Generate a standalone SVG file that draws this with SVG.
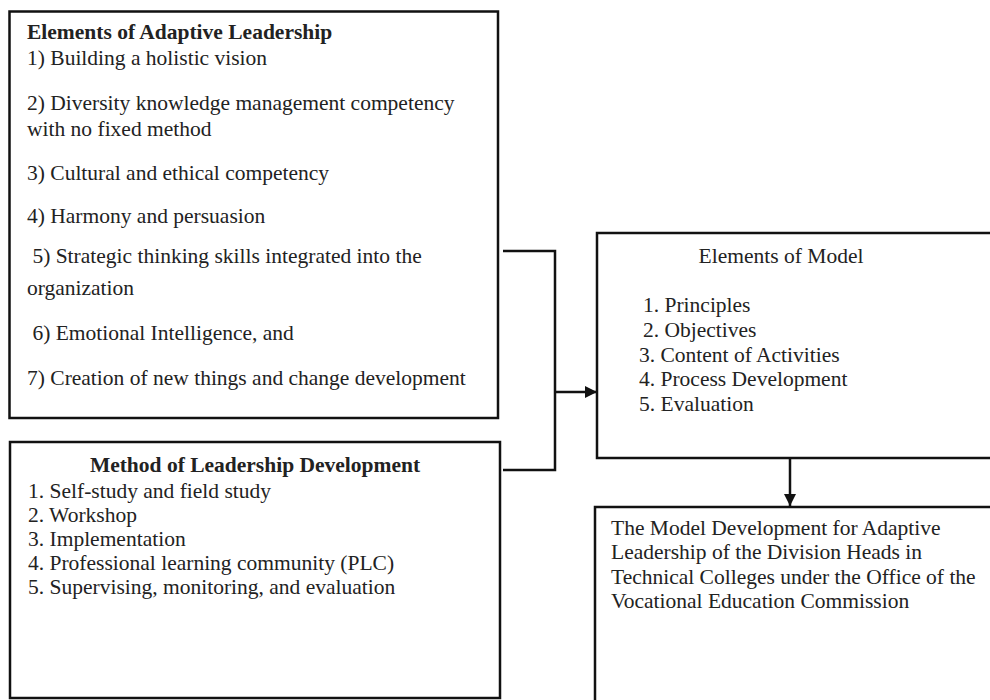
<svg xmlns="http://www.w3.org/2000/svg" width="990" height="700" viewBox="0 0 990 700">
<defs>
<style>
.box{fill:#fff;stroke:#111;stroke-width:2.5}
.t{font-family:"Liberation Serif","Times New Roman",serif;font-size:21.5px;fill:#222}
.b{font-weight:bold}
.c{fill:none;stroke:#111;stroke-width:2.5}
</style>
<marker id="ah" viewBox="0 0 12 12" refX="12" refY="6" markerWidth="12" markerHeight="12" markerUnits="userSpaceOnUse" orient="auto">
<path d="M0,0 L12,6 L0,12 Z" fill="#111"/>
</marker>
</defs>
<rect width="990" height="700" fill="#fff"/>
<g id="elements-adaptive">
<rect class="box" x="9.5" y="11.5" width="488.5" height="406.5"/>
<text class="t b" x="27" y="39">Elements of Adaptive Leadership</text>
<text class="t" x="27" y="65">1) Building a holistic vision</text>
<text class="t" x="27" y="110">2) Diversity knowledge management competency</text>
<text class="t" x="27" y="136">with no fixed method</text>
<text class="t" x="27" y="180">3) Cultural and ethical competency</text>
<text class="t" x="27" y="223">4) Harmony and persuasion</text>
<text class="t" x="27" y="263" xml:space="preserve"> 5) Strategic thinking skills integrated into the</text>
<text class="t" x="27" y="295">organization</text>
<text class="t" x="27" y="340" xml:space="preserve"> 6) Emotional Intelligence, and</text>
<text class="t" x="27" y="385">7) Creation of new things and change development</text>
</g>
<g id="method">
<rect class="box" x="10" y="442" width="490" height="256"/>
<text class="t b" x="255" y="472" text-anchor="middle">Method of Leadership Development</text>
<text class="t" x="28" y="498">1. Self-study and field study</text>
<text class="t" x="28" y="522">2. Workshop</text>
<text class="t" x="28" y="546">3. Implementation</text>
<text class="t" x="28" y="570">4. Professional learning community (PLC)</text>
<text class="t" x="28" y="594">5. Supervising, monitoring, and evaluation</text>
</g>
<g id="elements-model">
<rect class="box" x="597" y="233" width="410" height="225"/>
<text class="t" x="781" y="263" text-anchor="middle">Elements of Model</text>
<text class="t" x="643" y="312">1. Principles</text>
<text class="t" x="643" y="337">2. Objectives</text>
<text class="t" x="639" y="362">3. Content of Activities</text>
<text class="t" x="639" y="386">4. Process Development</text>
<text class="t" x="639" y="411">5. Evaluation</text>
</g>
<g id="model-development">
<rect class="box" x="595" y="507" width="410" height="210"/>
<text class="t" x="611" y="535">The Model Development for Adaptive</text>
<text class="t" x="611" y="559">Leadership of the Division Heads in</text>
<text class="t" x="611" y="584">Technical Colleges under the Office of the</text>
<text class="t" x="611" y="608">Vocational Education Commission</text>
</g>
<g id="connectors">
<polyline class="c" points="503,251 555,251 555,470 503,470"/>
<line class="c" x1="555" y1="392" x2="597" y2="392" marker-end="url(#ah)"/>
<line class="c" x1="790" y1="458" x2="790" y2="506" marker-end="url(#ah)"/>
</g>
</svg>
